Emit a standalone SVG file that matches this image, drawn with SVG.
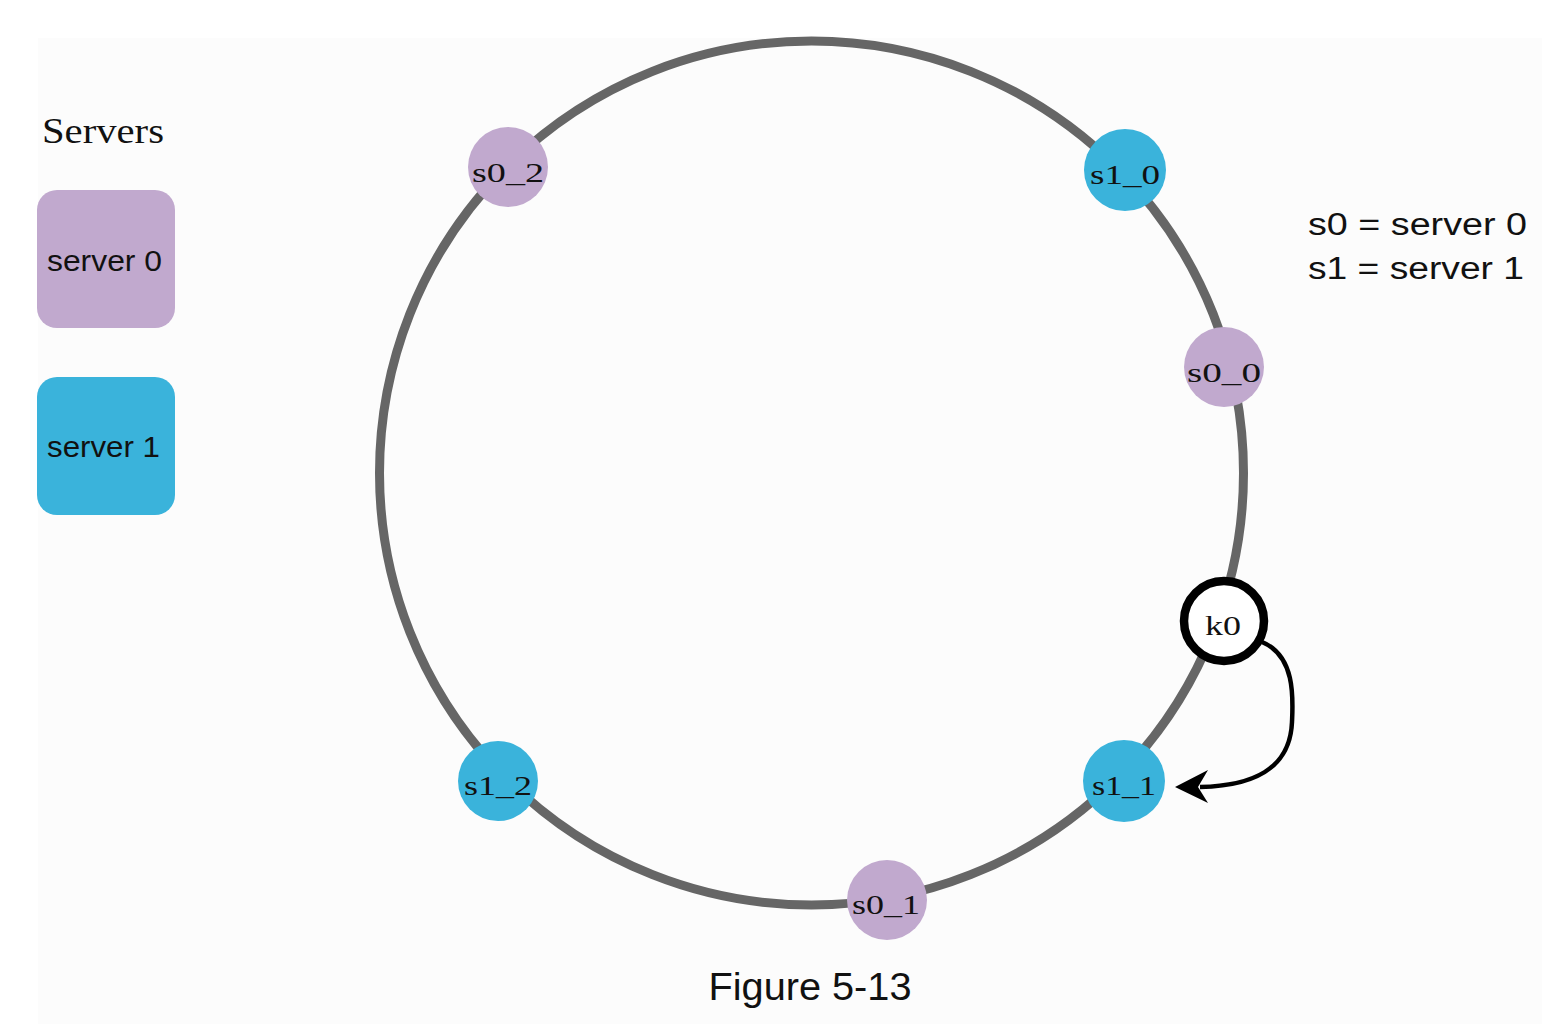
<svg xmlns="http://www.w3.org/2000/svg" width="1562" height="1024" viewBox="0 0 1562 1024">
  <style>
    .s0 { fill: #c1a9ce; }
    .s1 { fill: #3ab3db; }
    .lbl { font-family: "Liberation Serif", "Times New Roman", serif; font-size: 28px; fill: #111; text-anchor: middle; }
    .sans { font-family: "Liberation Sans", Arial, sans-serif; fill: #111; }
    .ring { fill: none; stroke: #666666; stroke-width: 9; }
  </style>
  <rect x="0" y="0" width="1562" height="1024" fill="#ffffff"/>
  <rect x="38" y="38" width="1504" height="986" fill="#fcfcfc"/>

  <g id="legend">
    <text x="42" y="143" font-family="Liberation Serif, Times New Roman, serif" font-size="35" fill="#111" textLength="122" lengthAdjust="spacingAndGlyphs">Servers</text>
    <g id="legend-server0">
      <rect x="37" y="190" width="138" height="138" rx="20" class="s0"/>
      <text x="47" y="271" class="sans" font-size="29" textLength="115" lengthAdjust="spacingAndGlyphs">server 0</text>
    </g>
    <g id="legend-server1">
      <rect x="37" y="377" width="138" height="138" rx="20" class="s1"/>
      <text x="47" y="457" class="sans" font-size="29" textLength="113" lengthAdjust="spacingAndGlyphs">server 1</text>
    </g>
  </g>

  <g id="key">
    <text x="1308" y="235" class="sans" font-size="31" textLength="219" lengthAdjust="spacingAndGlyphs">s0 = server 0</text>
    <text x="1308" y="279" class="sans" font-size="31" textLength="216" lengthAdjust="spacingAndGlyphs">s1 = server 1</text>
  </g>

  <g id="ring">
    <circle cx="811.5" cy="473" r="432" class="ring"/>
  </g>

  <g id="connectors">
    <path d="M1262,642 C1296,656 1293,700 1292,722 C1290,770 1252,786 1200,787" fill="none" stroke="#000" stroke-width="4.5"/>
    <polygon points="1175,787 1208,770 1198,787 1208,803" fill="#000"/>
  </g>

  <g id="node-s0_2">
    <circle cx="508" cy="167" r="40" class="s0"/>
    <text x="508" y="182" class="lbl" textLength="72" lengthAdjust="spacingAndGlyphs">s0_2</text>
  </g>
  <g id="node-s1_0">
    <circle cx="1125" cy="170" r="41" class="s1"/>
    <text x="1125" y="184" class="lbl" textLength="70" lengthAdjust="spacingAndGlyphs">s1_0</text>
  </g>
  <g id="node-s0_0">
    <circle cx="1224" cy="367" r="40" class="s0"/>
    <text x="1224" y="382" class="lbl" textLength="74" lengthAdjust="spacingAndGlyphs">s0_0</text>
  </g>
  <g id="node-k0">
    <circle cx="1224" cy="621" r="40" fill="#ffffff" stroke="#000" stroke-width="8.5"/>
    <text x="1223" y="635" class="lbl" font-size="29" textLength="36" lengthAdjust="spacingAndGlyphs">k0</text>
  </g>
  <g id="node-s1_1">
    <circle cx="1124" cy="781" r="41" class="s1"/>
    <text x="1124" y="795" class="lbl" textLength="64" lengthAdjust="spacingAndGlyphs">s1_1</text>
  </g>
  <g id="node-s1_2">
    <circle cx="498" cy="781" r="40" class="s1"/>
    <text x="498" y="795" class="lbl" textLength="68" lengthAdjust="spacingAndGlyphs">s1_2</text>
  </g>
  <g id="node-s0_1">
    <circle cx="887" cy="900" r="40" class="s0"/>
    <text x="886" y="914" class="lbl" textLength="68" lengthAdjust="spacingAndGlyphs">s0_1</text>
  </g>

  <text x="810" y="1000" class="sans" font-size="38" text-anchor="middle" textLength="203" lengthAdjust="spacingAndGlyphs">Figure 5-13</text>
</svg>
